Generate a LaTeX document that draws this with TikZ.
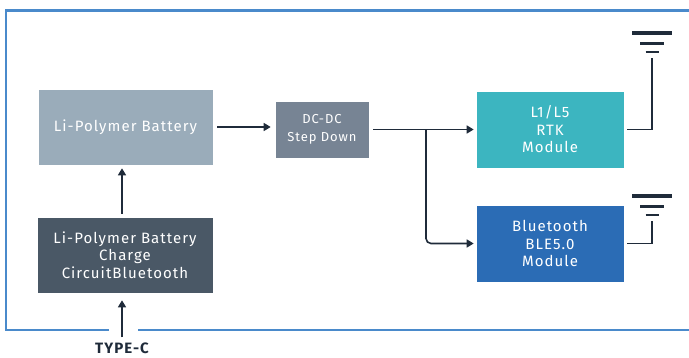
\documentclass[tikz,border=0pt]{standalone}
\usepackage{fontspec}
\setmainfont[LetterSpace=7]{Fira Sans}
\usetikzlibrary{arrows.meta,positioning}

\definecolor{batgray}{HTML}{9AACBA}
\definecolor{chgdark}{HTML}{4A5866}
\definecolor{dcgray}{HTML}{778494}
\definecolor{rtkteal}{HTML}{3CB5C0}
\definecolor{bleblue}{HTML}{2B6CB5}
\definecolor{frameblue}{HTML}{4A8ACB}
\definecolor{wirec}{HTML}{1F2B3A}

\begin{document}
\begin{tikzpicture}[x=1pt,y=-1pt,
box/.style={draw=white,line width=0.6pt,text=white,align=center,inner sep=0pt,
  font=\fontsize{15}{17.5}\selectfont},
wire/.style={draw=wirec,line width=1.6pt},
feed/.style={wire,-{Triangle[length=7pt,width=8pt]}},
frame/.style={draw=frameblue,line width=2.2pt}]
\useasboundingbox (0,0) rectangle (689,358);
\draw[frame] (109,330) -| (6,10.5) -- (689,10.5);
\draw[frame] (138,330) -- (689,330);

\node[box,fill=batgray,minimum width=175pt,minimum height=76pt] (bat) at (125.5,127) {Li-Polymer Battery};
\node[box,fill=chgdark,minimum width=176pt,minimum height=76pt] (chg) at (125,255) {Li-Polymer Battery\\Charge\\CircuitBluetooth};
\node[box,fill=dcgray,minimum width=94pt,minimum height=57pt,font=\fontsize{13}{18}\selectfont] (dcdc) at (322,129.5) {DC-DC\\Step Down};
\node[box,fill=rtkteal,minimum width=148pt,minimum height=77pt] (rtk) at (550,129.5) {L1/L5\\RTK\\Module};
\node[box,fill=bleblue,minimum width=148pt,minimum height=77pt] (ble) at (550,243.5) {Bluetooth\\BLE5.0\\Module};
\node[inner sep=0pt,text=wirec,font=\fontsize{15}{17}\selectfont\bfseries] (typec) at (122,348) {TYPE-C};

% power path
\draw[feed,shorten <=5pt,shorten >=7pt] (typec.north) -- (typec.north |- chg.south);
\draw[feed,shorten <=3pt,shorten >=3pt] (typec.north |- chg.north) -- (typec.north |- bat.south);
\draw[feed,shorten <=4pt,shorten >=4pt] (bat.east) -- (bat.east -| dcdc.west);
\draw[feed,shorten <=4pt,shorten >=2pt] (dcdc.east) -- (rtk.west);
\coordinate (split) at (426,129.5);
\draw[feed,rounded corners=5pt,shorten >=2pt] (split) |- (ble.west);

% antennas
\foreach \m/\t in {rtk/58,ble/221}{
  \coordinate (\m top) at (652,\t);
  \draw[wire] ([xshift=3pt]\m.east) -| (\m top);
  \draw[wirec,line width=4pt] ([xshift=-20pt,yshift=25pt]\m top) -- ++(40,0);
  \draw[wirec,line width=3pt] ([xshift=-12pt,yshift=14pt]\m top) -- ++(24,0);
  \draw[wirec,line width=2.4pt] ([xshift=-6.5pt,yshift=6pt]\m top) -- ++(13,0);
}
\end{tikzpicture}
\end{document}
